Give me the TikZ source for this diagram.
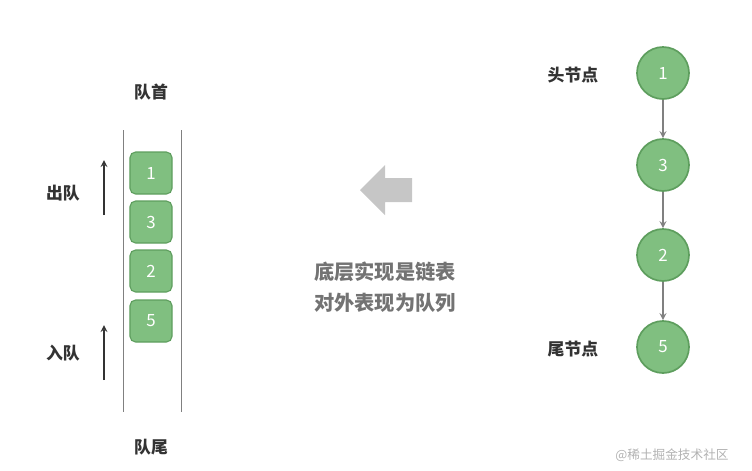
\documentclass[tikz,border=0pt]{standalone}
\usepackage{fontspec}
\setmainfont{Noto Sans CJK SC}
\usetikzlibrary{positioning,shapes.arrows}
\definecolor{nodegreen}{HTML}{80BF80}
\definecolor{edgegreen}{HTML}{5E9E5E}
\definecolor{textgray}{HTML}{333333}
\begin{document}
\begin{tikzpicture}[x=0.025cm,y=-0.025cm,
  qbox/.style={draw=edgegreen,fill=nodegreen,rounded corners=4pt,minimum size=1.05cm,text=white,font=\large,line width=0.8pt},
  lnode/.style={circle,draw=edgegreen,fill=nodegreen,minimum size=1.3cm,text=white,font=\large,line width=1.2pt},
  lbl/.style={text=textgray,font=\large\bfseries},
  arr/.style={->,>=stealth,draw=gray,line width=1.2pt}]
\useasboundingbox (0,0) rectangle (752,470);
% queue walls
\draw[gray] (123,130) -- (123,412);
\draw[gray] (181,130) -- (181,412);
\node[lbl] (head) at (151,92) {队首};
\node[lbl] (tail) at (151,447) {队尾};
% queue items
\node[qbox] (q1) at (151,173) {1};
\node[qbox] (q3) at (151,222) {3};
\node[qbox] (q2) at (151,271) {2};
\node[qbox] (q5) at (151,321) {5};
% dequeue / enqueue
\node[lbl] (deq) at (63,193) {出队};
\node[lbl] (enq) at (63,353) {入队};
\coordinate (d0) at (104,215); \coordinate (d1) at (104,160);
\coordinate (e0) at (104,380); \coordinate (e1) at (104,325);
\draw[arr,draw=textgray] (d0) -- (d1);
\draw[arr,draw=textgray] (e0) -- (e1);
% big arrow and note
\fill[gray!45] (360,190) -- (385,165) -- (385,178) -- (412,178) -- (412,202) -- (385,202) -- (385,215) -- cycle;
\node[lbl,font=\Large\bfseries,text=gray!90!black,align=center] (note) at (385,287) {底层实现是链表\\[4pt]对外表现为队列};
% linked list
\node[lnode] (n1) at (663,73) {1};
\node[lnode] (n3) at (663,165) {3};
\node[lnode] (n2) at (663,255) {2};
\node[lnode] (n5) at (663,347) {5};
\draw[arr] (n1) -- (n3);
\draw[arr] (n3) -- (n2);
\draw[arr] (n2) -- (n5);
\node[lbl] (hn) at (573,75) {头节点};
\node[lbl] (tn) at (573,349) {尾节点};
\node[text=gray!60,font=\small] (wm) at (672,455) {@稀土掘金技术社区};
\end{tikzpicture}
\end{document}
